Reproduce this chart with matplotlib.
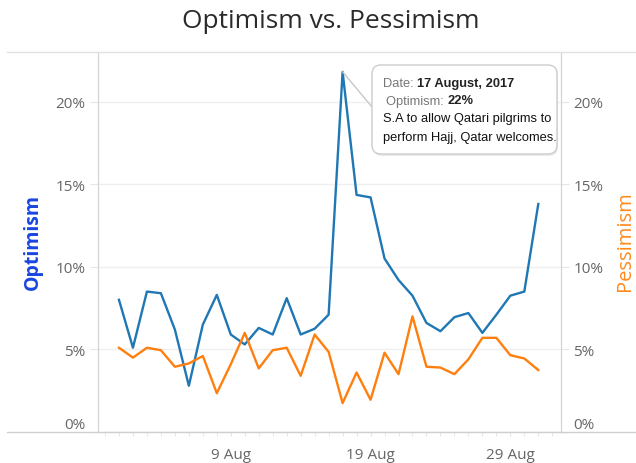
import numpy as np
import pandas as pd
import matplotlib
matplotlib.use('Agg')
import matplotlib.pyplot as plt
import matplotlib.dates as mdates
from matplotlib.patches import FancyBboxPatch, ConnectionPatch
from matplotlib.lines import Line2D
from matplotlib.transforms import IdentityTransform

# daily share of optimistic / pessimistic tweets, August 2017 (%)
dates = pd.date_range('2017-08-01', '2017-08-31', freq='D')
optimism = [8.0, 5.1, 8.5, 8.4, 6.2, 2.8, 6.5, 8.3, 5.9, 5.3, 6.3, 5.9, 8.1, 5.9, 6.25,
            7.1, 21.8, 14.35, 14.2, 10.5, 9.2, 8.25, 6.6, 6.1, 6.95, 7.2, 6.0, 7.1,
            8.25, 8.5, 13.8]
pessimism = [5.1, 4.5, 5.1, 4.95, 3.95, 4.15, 4.6, 2.35, 4.1, 6.0, 3.85, 4.95, 5.1, 3.4,
             5.9, 4.85, 1.75, 3.6, 1.95, 4.8, 3.5, 7.0, 3.95, 3.9, 3.5, 4.4, 5.7, 5.7,
             4.65, 4.45, 3.75]
yticks = [0, 5, 10, 15, 20]

peak_date = pd.Timestamp('2017-08-17')
headline = ['S.A to allow Qatari pilgrims to', 'perform Hajj, Qatar welcomes.']

BLUE = '#1f77b4'
ORANGE = '#ff7f0e'
GREY = '#666666'
W, H = 636, 464

fig = plt.figure(figsize=(W / 100, H / 100), dpi=100)
ax = fig.add_axes([98 / W, 1 - 433 / H, (561 - 98) / W, (433 - 53) / H])
ax2 = ax.twinx()


def px(x, y):
    return x / W, 1 - y / H


ax.plot(dates, optimism, color=BLUE, lw=1.7, zorder=3)
ax2.plot(dates, pessimism, color=ORANGE, lw=1.7, zorder=3)

for a in (ax, ax2):
    a.set_ylim(0, 23)
    a.set_xlim(pd.Timestamp('2017-07-30 12:00'), pd.Timestamp('2017-09-01 15:00'))
    a.set_yticks(yticks)
    a.set_yticklabels([f'{v}%' for v in yticks])
    a.tick_params(axis='y', length=6, color='#e6e6e6', labelcolor=GREY,
                  labelsize=11, pad=3)
    for s in ('top', 'bottom'):
        a.spines[s].set_visible(False)
    a.spines['left'].set_color('#d4d4d4')
    a.spines['right'].set_color('#d4d4d4')
    for lab in a.get_yticklabels():
        lab.set_fontfamily('Open Sans')
    a.yaxis.get_major_ticks()[0].label1.set_va('bottom')
    a.yaxis.get_major_ticks()[0].label2.set_va('bottom')

ax.grid(axis='y', color='#efefef', lw=1)
ax.set_axisbelow(True)

ax.xaxis.set_major_locator(mdates.DayLocator(bymonthday=[9, 19, 29]))
ax.xaxis.set_major_formatter(mdates.DateFormatter('%-d %b'))
ax.xaxis.set_minor_locator(mdates.DayLocator())
ax.tick_params(axis='x', which='both', length=3, color='#e3e3e3')
ax.tick_params(axis='x', which='major', labelsize=11, labelcolor=GREY, pad=8)
for lab in ax.get_xticklabels():
    lab.set_fontfamily('Open Sans')

# pane borders running across the whole width
fig.add_artist(Line2D([7 / W, 1], [1 - 53 / H] * 2, color='#e2e2e2', lw=1))
fig.add_artist(Line2D([7 / W, 1], [1 - 433 / H] * 2, color='#cfcfcf', lw=1))

fig.text(*px(331, 21), 'Optimism vs. Pessimism', ha='center', va='center',
         fontsize=19, color='#2b2b2b', family='Open Sans')
fig.text(*px(33, 242), 'Optimism', rotation=90, ha='center', va='center',
         fontsize=14, fontweight='bold', color='#1846e0', family='Open Sans')
fig.text(*px(625, 241), 'Pessimism', rotation=90, ha='center', va='center',
         fontsize=14.5, color='#ff8a1c', family='Open Sans')

# tooltip for the peak day
peak_val = optimism[list(dates).index(peak_date)]
bx0, by0, bx1, by1 = 372, 66, 557, 155
shadow = FancyBboxPatch((bx0 + 1, H - by1 - 2), bx1 - bx0, by1 - by0,
                        boxstyle='round,pad=0,rounding_size=9',
                        transform=IdentityTransform(), fc='#000000', ec='none',
                        alpha=0.08, zorder=9)
box = FancyBboxPatch((bx0, H - by1), bx1 - bx0, by1 - by0,
                     boxstyle='round,pad=0,rounding_size=9',
                     transform=IdentityTransform(), fc='white', ec='#cccccc',
                     lw=1, zorder=10)
fig.add_artist(shadow)
fig.add_artist(box)
fig.add_artist(ConnectionPatch(xyA=(mdates.date2num(peak_date), peak_val), coordsA=ax.transData,
                               xyB=(bx0, H - 108), coordsB='figure pixels',
                               color='#c8c8c8', lw=1, zorder=8))

tip = dict(fontsize=9.3, family='Liberation Sans', zorder=11, va='center')
date_cap = fig.text(*px(383, 84), 'Date: ', color='#777777', **tip)
date_val = fig.text(0, 0, peak_date.strftime('%-d %B, %Y'), fontweight='bold',
                    color='#222222', **tip)
opt_cap = fig.text(*px(386, 101.5), 'Optimism: ', color='#777777', **tip)
opt_val = fig.text(0, 0, f'{peak_val / 100:.0%}', fontweight='bold',
                   color='#222222', **tip)
for i, line in enumerate(headline):
    fig.text(*px(383, 119.5 + i * 18), line, color='#111111', **tip)

# put the bold values right after their captions
r = fig.canvas.get_renderer()
for cap, val in ((date_cap, date_val), (opt_cap, opt_val)):
    ext = cap.get_window_extent(r)
    val.set_transform(IdentityTransform())
    val.set_position((ext.x1, (ext.y0 + ext.y1) / 2))

fig.savefig('out.png', dpi=100)
